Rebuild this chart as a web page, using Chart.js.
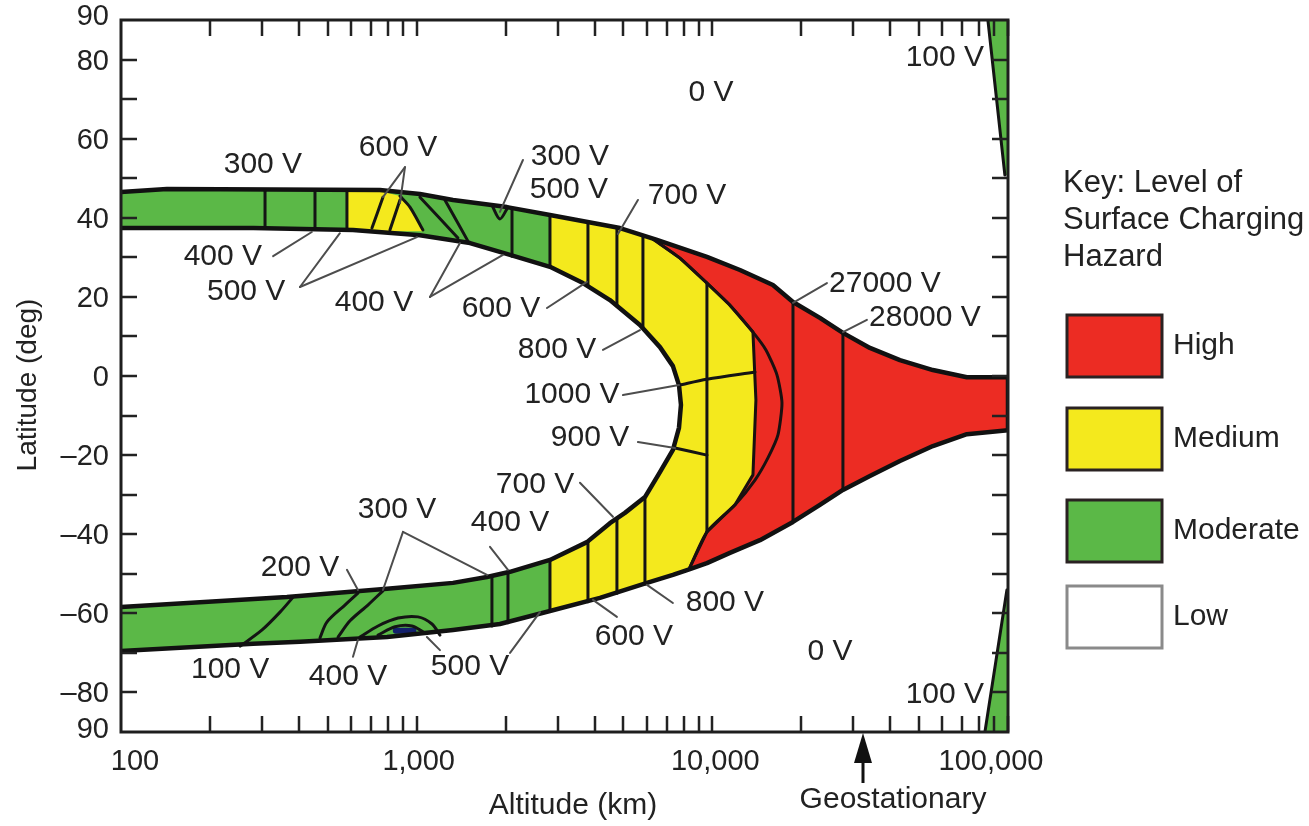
<!DOCTYPE html>
<html>
<head>
<meta charset="utf-8">
<title>Surface charging hazard</title>
<script src="https://cdn.jsdelivr.net/npm/chart.js@4.4.0/dist/chart.umd.min.js"></script>
<style>
  html, body { margin: 0; padding: 0; background: #fff; }
</style>
</head>
<body>
<canvas id="hazard" width="1309" height="826"></canvas>
<script>
// all points are [altitude km, latitude deg]
var outerTop = [[100,46.5],[143,47.3],[751,47.0],[1026,46.0],[1327,44.5],[2020,42.7],[2824,40.7],[4870,37.4],[6498,34.4],
    [9588,30.1],[12400,26.8],[16030,23.0],[18740,18.7],[23110,14.7],[27650,10.9],[34120,7.1],[43100,4.0],[55720,1.5],
    [72610,-0.3],[100000,-0.3]];
var outerBottom = [[100000,-13.7],[72610,-14.7],[55720,-17.7],[43100,-21.5],[34120,-25.3],[27650,-28.8],[23110,-32.6],
    [18740,-36.9],[14490,-41.5],[11470,-44.7],[9588,-47.3],[8400,-48.8],[7357,-50.3],[6010,-52.3],[4168,-56.1],
    [2824,-59.4],[1912,-62.7],[1327,-64.2],[794,-66.0],[403,-67.2],[280,-67.7],[100,-69.5]];
var innerEdge = [[100,37.4],[280,37.4],[609,36.9],[1026,35.6],[1515,33.6],[2069,30.6],[2824,27.6],[3651,23.5],
    [4504,19.2],[5690,12.9],[6650,7.3],[7357,2.5],[7712,-2.3],[7832,-7.3],[7712,-13.1],[7357,-18.7],[6650,-24.3],
    [5917,-30.6],[5063,-34.6],[4504,-37.2],[3766,-42.0],[2824,-46.5],[2069,-49.5],[1729,-50.8],[1327,-52.3],
    [794,-53.8],[364,-55.9],[100,-58.4]];
var redEdge = [[6298,34.6],[7771,29.8],[9588,23.5],[11470,17.9],[13720,11.1],[14040,-6.1],[13720,-25.0],
    [11920,-32.6],[9588,-39.4],[8400,-48.3]];
var redArc = [[6298,34.6],[7771,29.8],[9588,23.5],[11470,17.9],[13720,11.1],[15180,6.6],[16540,0.3],[17200,-6.8],
    [16670,-14.9],[15420,-20.7],[13940,-26.3],[11920,-32.6],[9588,-39.4],[8400,-48.3]];
var yellowPatch = [[581,46.8],[751,46.8],[878,45.5],[949,42.7],[1050,36.6],[581,36.6]];
var sliverTop = [[85510,90],[100000,90],[100000,50.8],[97600,50.8]];
var sliverBottom = [[99150,-54.1],[100000,-54.1],[100000,-90],[83550,-90]];

var contourLines = [
    [[307,46.7],[307,37.4]], [[453,46.8],[453,37.1]], [[581,46.8],[581,36.9]],
    [[706,37.4],[769,45.2]], [[812,36.9],[878,44.5]], [[878,45.5],[949,42.7],[1050,36.9]],
    [[1026,45.2],[1379,34.9]], [[1246,44.5],[1491,34.1]], [[1797,43.2],[1912,39.7],[2036,42.7]],
    [[2101,42.5],[2101,30.3]], [[2824,40.7],[2824,27.6]],
    [[3796,38.9],[3796,22.7]], [[4757,37.4],[4757,17.7]], [[5825,35.6],[5825,12.6]],
    [[9588,23.5],[9588,-39.4]], [[7712,-2.3],[9588,-0.8],[13940,1.0]], [[7474,-18.2],[9588,-20.0]],
    [[18740,18.7],[18740,-36.9]], [[27650,10.9],[27650,-28.8]],
    [[5917,-30.6],[5917,-52.6]], [[4757,-35.9],[4757,-54.9]], [[3796,-42.0],[3796,-57.1]],
    [[2824,-46.5],[2824,-59.4]], [[2036,-49.8],[2036,-62.4]], [[1797,-50.8],[1797,-63.2]],
    [[382,-55.9],[345,-59.7],[300,-64.2],[253,-68.3]],
    [[633,-54.9],[572,-57.9],[497,-62.2],[471,-66.2]],
    [[769,-54.3],[684,-57.9],[595,-61.9],[542,-66.0]],
    [[643,-66.0],[740,-63.2],[865,-61.2],[1010,-60.9],[1127,-62.7],[1199,-65.5]],
    [[740,-65.5],[845,-63.4],[964,-63.2],[1067,-65.0]],
    [[85510,90],[97600,50.8]], [[99150,-54.1],[83550,-90]]
];
var blueSpot = [[850,-64.4],[975,-64.4]];

var leaderLines = [
    [[913,52.8],[769,45.2]], [[913,52.8],[878,43.7]], [[327,30.3],[442,36.4]],
    [[403,22.5],[550,36.1]], [[403,22.5],[1002,35.1]], [[1109,20.0],[1401,33.6]],
    [[1109,20.0],[1958,30.6]], [[2759,17.2],[3766,23.8]], [[2288,54.6],[1912,41.5]],
    [[5602,44.5],[4795,35.9]], [[24410,23.5],[18740,18.5]], [[33330,14.2],[27650,11.1]],
    [[4266,6.6],[5690,11.6]], [[4985,-4.8],[7712,-2.3]], [[5602,-16.7],[7474,-18.2]],
    [[3567,-27.0],[4612,-35.6]], [[1770,-43.2],[2036,-49.0]], [[899,-39.4],[769,-54.1]],
    [[899,-39.4],[1729,-50.3]], [[581,-49.0],[633,-54.1]], [[609,-71.0],[633,-66.7]],
    [[1199,-69.3],[1083,-66.0]], [[2069,-70.0],[2612,-59.7]], [[4757,-60.9],[3948,-56.6]],
    [[7357,-57.4],[6010,-52.8]]
];

var voltText = ['0 V','100 V','300 V','600 V','300 V','500 V','700 V','400 V','500 V','400 V','600 V',
    '27000 V','28000 V','800 V','1000 V','900 V','700 V','300 V','400 V','200 V','800 V','600 V',
    '100 V','400 V','500 V','0 V','100 V'];
var voltAlt = [9892,61170,302,865,3298,3273,8208,221,265,717,1928,
    38350,52360,2982,3351,3857,2513,858,2069,403,11030,5430,
    234,586,1515,24990,61170];
var voltLat = [71.5,80.4,53.3,57.6,55.4,47.0,45.5,30.1,21.2,18.5,16.9,
    23.3,14.7,6.6,-4.8,-15.7,-27.6,-33.9,-37.2,-48.5,-57.4,-65.9,
    -74.3,-76.0,-73.5,-69.8,-80.6];

var xTickValues = [100, 1000, 10000, 100000];
var xTickLabels = ['100', '1,000', '10,000', '100,000'];
var yTickValues = [90, 80, 60, 40, 20, 0, -20, -40, -60, -80, -90];
var yTickLabels = ['90', '80', '60', '40', '20', '0', '\u201320', '\u201340', '\u201360', '\u201380', '90'];
var geoMarkAlt = 32300;

var keyNames = ['High', 'Medium', 'Moderate', 'Low'];
var keyColors = ['#ec2c23', '#f4e91d', '#5bb847', '#ffffff'];

var FONT = '"Liberation Sans", Arial, Helvetica, sans-serif';
var RED = keyColors[0], YELLOW = keyColors[1], GREEN = keyColors[2];

function toXY(pts) {
    return pts.map(function (p) { return { x: p[0], y: p[1] }; });
}
function fillSet(label, pts, color, order) {
    return { label: label, data: toXY(pts), showLine: true, fill: 'shape', backgroundColor: color,
        borderColor: 'rgba(0,0,0,0)', borderWidth: 0, pointRadius: 0, tension: 0, order: order };
}
function lineSet(label, pts, color, width, order, tension) {
    return { label: label, data: toXY(pts), showLine: true, fill: false, borderColor: color,
        borderWidth: width, pointRadius: 0, tension: tension || 0, order: order,
        borderJoinStyle: 'round', borderCapStyle: 'round' };
}

var redFill = outerTop.filter(function (p) { return p[0] > 6300; })
    .concat(outerBottom.filter(function (p) { return p[0] >= 8400; }))
    .concat(redEdge.slice().reverse());
var yellowFill = outerTop.filter(function (p) { return p[0] >= 2824 && p[0] < 6300; })
    .concat(redEdge)
    .concat(outerBottom.filter(function (p) { return p[0] >= 2824 && p[0] < 8400; }));

var datasets = [
    fillSet('moderate', outerTop.concat(outerBottom), GREEN, 30),
    fillSet('high', redFill, RED, 29),
    fillSet('medium', yellowFill, YELLOW, 28),
    fillSet('medium patch', yellowPatch, YELLOW, 27),
    fillSet('low', innerEdge, '#ffffff', 26),
    fillSet('pole north', sliverTop, GREEN, 26),
    fillSet('pole south', sliverBottom, GREEN, 26),
    lineSet('spot', blueSpot, '#13206b', 6, 25),
    lineSet('arc', redArc, '#1a1010', 3, 24, 0.2),
    lineSet('edge', redEdge, '#1a1010', 3, 24)
];
contourLines.forEach(function (c, i) {
    datasets.push(lineSet('contour ' + i, c, '#141414', 3, 23, 0.3));
});
datasets.push(lineSet('outer', outerTop.concat(outerBottom), '#111111', 4.5, 20));
datasets.push(lineSet('inner', innerEdge, '#111111', 4.5, 20));
leaderLines.forEach(function (s, i) {
    datasets.push(lineSet('leader ' + i, s, '#4d4d4d', 2, 18));
});

var decorPlugin = {
    id: 'decor',
    afterDatasetsDraw: function (chart) {
        var ctx = chart.ctx, a = chart.chartArea;
        var xs = chart.scales.x, ys = chart.scales.y;
        ctx.save();

        // inward tick marks on all four sides
        ctx.strokeStyle = '#222';
        ctx.lineWidth = 2.5;
        ctx.beginPath();
        for (var d = 100; d < 100000; d *= 10) {
            for (var m = 2; m <= 10; m++) {
                var px = Math.round(xs.getPixelForValue(d * m));
                ctx.moveTo(px, a.bottom); ctx.lineTo(px, a.bottom - 16);
                ctx.moveTo(px, a.top); ctx.lineTo(px, a.top + 16);
            }
        }
        for (var v = -80; v <= 80; v += 10) {
            var py = Math.round(ys.getPixelForValue(v));
            ctx.moveTo(a.left, py); ctx.lineTo(a.left + 16, py);
            ctx.moveTo(a.right, py); ctx.lineTo(a.right - 16, py);
        }
        ctx.stroke();

        ctx.lineWidth = 3;
        ctx.strokeStyle = '#1e1e1e';
        ctx.strokeRect(a.left, a.top, a.right - a.left, a.bottom - a.top);

        // tick labels
        ctx.fillStyle = '#222';
        ctx.font = '29px ' + FONT;
        ctx.textBaseline = 'middle';
        var nudge = [14, 2, 3, -17];
        ctx.textAlign = 'center';
        xTickValues.forEach(function (val, i) {
            ctx.fillText(xTickLabels[i], xs.getPixelForValue(val) + nudge[i], a.bottom + 30);
        });
        ctx.textAlign = 'right';
        yTickValues.forEach(function (val, i) {
            var py = ys.getPixelForValue(val) + 2;
            if (val === 90) py = a.top - 3;
            if (val === -90) py = a.bottom - 2;
            ctx.fillText(yTickLabels[i], a.left - 12, py);
        });

        // axis titles
        ctx.font = '30px ' + FONT;
        ctx.textAlign = 'center';
        ctx.fillText('Altitude (km)', 573, a.bottom + 74);
        ctx.save();
        ctx.translate(28, 385);
        ctx.rotate(-Math.PI / 2);
        ctx.font = '28px ' + FONT;
        ctx.fillText('Latitude (deg)', 0, 0);
        ctx.restore();

        // geostationary marker
        var gx = Math.round(xs.getPixelForValue(geoMarkAlt));
        ctx.fillStyle = '#111';
        ctx.beginPath();
        ctx.moveTo(gx, a.bottom + 1);
        ctx.lineTo(gx - 9, a.bottom + 31);
        ctx.lineTo(gx + 9, a.bottom + 31);
        ctx.closePath();
        ctx.fill();
        ctx.fillRect(gx - 1.5, a.bottom + 28, 3, 23);
        ctx.fillStyle = '#222';
        ctx.font = '30px ' + FONT;
        ctx.fillText('Geostationary', gx + 30, a.bottom + 68);

        // voltage labels
        ctx.font = '30px ' + FONT;
        voltText.forEach(function (t, i) {
            ctx.fillText(t, xs.getPixelForValue(voltAlt[i]), ys.getPixelForValue(voltLat[i]));
        });

        // key
        var kx = a.right + 55;
        ctx.textAlign = 'left';
        ctx.font = '31px ' + FONT;
        ['Key: Level of', 'Surface Charging', 'Hazard'].forEach(function (t, i) {
            ctx.fillText(t, kx, 183 + i * 37);
        });
        var boxTops = [315, 408, 500, 586];
        ctx.font = '30px ' + FONT;
        keyNames.forEach(function (name, i) {
            ctx.fillStyle = keyColors[i];
            ctx.fillRect(kx + 4, boxTops[i], 95, 62);
            ctx.lineWidth = 3;
            ctx.strokeStyle = name === 'Low' ? '#8a8a8a' : '#2a2222';
            ctx.strokeRect(kx + 4, boxTops[i], 95, 62);
            ctx.fillStyle = '#222';
            ctx.fillText(name, kx + 110, boxTops[i] + 31);
        });
        ctx.restore();
    }
};

var chart = new Chart(document.getElementById('hazard').getContext('2d'), {
    type: 'scatter',
    data: { datasets: datasets },
    options: {
        responsive: false,
        animation: false,
        devicePixelRatio: 1,
        events: [],
        layout: { padding: { left: 121, right: 301, top: 20, bottom: 94 } },
        plugins: { legend: { display: false }, tooltip: { enabled: false } },
        scales: {
            x: {
                type: 'logarithmic', min: 100, max: 100000,
                grid: { display: false, drawTicks: false },
                border: { display: false },
                ticks: { display: false }
            },
            y: {
                type: 'linear', min: -90, max: 90,
                grid: { display: false, drawTicks: false },
                border: { display: false },
                ticks: { display: false }
            }
        }
    },
    plugins: [decorPlugin]
});
</script>
</body>
</html>
